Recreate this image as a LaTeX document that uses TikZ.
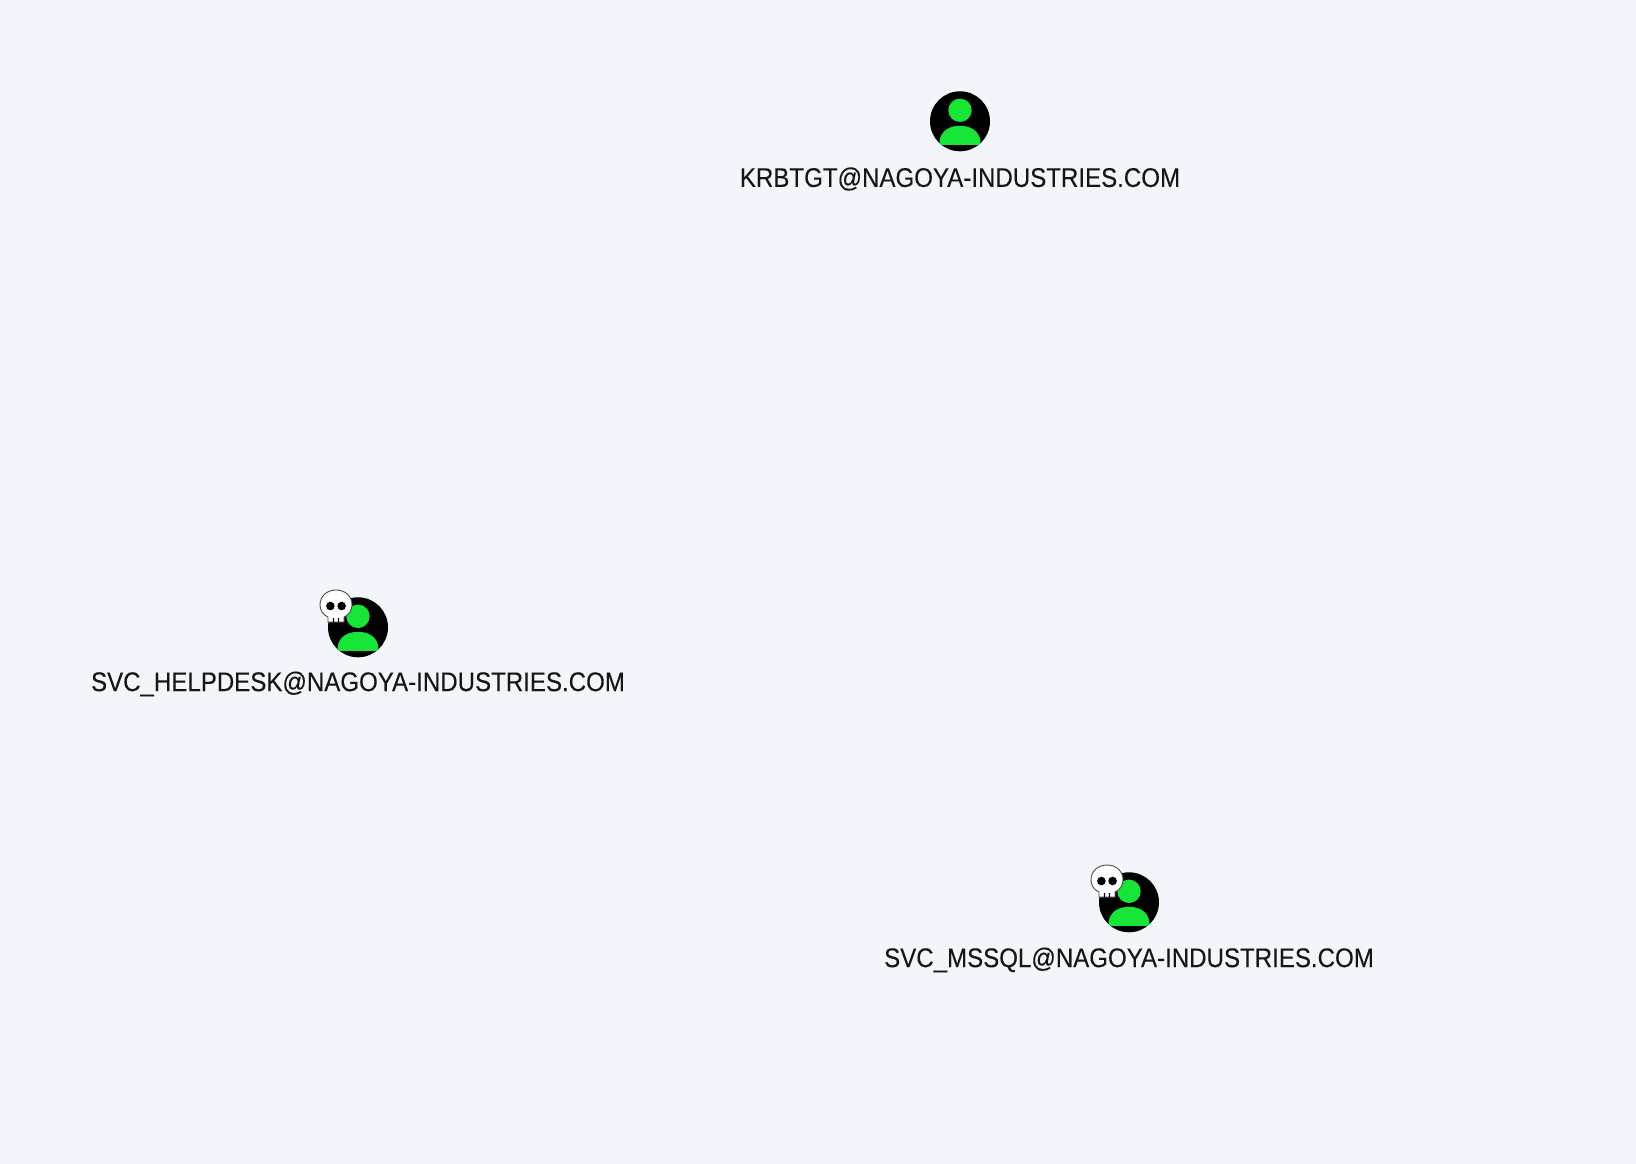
\documentclass[tikz,border=0pt]{standalone}
\usepackage{fontspec}
\setmainfont[FakeStretch=0.892,FakeBold=0.12]{Liberation Sans}
\definecolor{pagebg}{HTML}{F2F5FA}
\definecolor{usergreen}{HTML}{17E538}
\definecolor{labeltext}{HTML}{161616}
\tikzset{
  x=1pt,y=-1pt,
  disc/.style={circle,fill=black,minimum size=60pt,inner sep=0pt},
  userlabel/.style={text=labeltext,font=\fontsize{27}{30}\selectfont,inner sep=0pt,anchor=center},
  usericon/.pic={
    \fill[usergreen] (0,-11) circle[radius=11.7];
    \fill[usergreen] (-20.5,20) .. controls (-19,9) and (-10,4.5) .. (0,4.5) .. controls (10,4.5) and (19,9) .. (20.5,20)
      .. controls (21,22) and (20,23.5) .. (18,23.5) -- (-18,23.5) .. controls (-20,23.5) and (-21,22) .. (-20.5,20) -- cycle;
  },
  skullicon/.pic={
    \fill[white,draw=black!70,line width=0.9pt] (-8,16) -- (-8,11) .. controls (-13,9) and (-16,4) .. (-16,-1)
      .. controls (-16,-10) and (-9,-16) .. (0,-16) .. controls (9,-16) and (16,-10) .. (16,-1)
      .. controls (16,4) and (13,9) .. (8,11) -- (8,16) -- cycle;
    \fill[black] (-5.6,0) circle[radius=4.3] (5.6,0) circle[radius=4.3];
    \fill[black] (-3.2,12) rectangle (-1.9,16) (1.9,12) rectangle (3.2,16);
  }
}
\begin{document}
\begin{tikzpicture}
\path[use as bounding box,fill=pagebg] (0,0) rectangle (1636,1164);
\node[disc] (krbtgt) at (960,121.3) {};
\pic at (krbtgt.center) {usericon};
\node[userlabel] (krbtgtlabel) at (960,179) {KRBTGT@NAGOYA-INDUSTRIES.COM};
\node[disc] (helpdesk) at (358,627.3) {};
\pic at (helpdesk.center) {usericon};
\pic at (336,606) {skullicon};
\node[userlabel] (helpdesklabel) at (358,684) {SVC\_HELPDESK@NAGOYA-INDUSTRIES.COM};
\node[disc] (mssql) at (1129,902.3) {};
\pic at (mssql.center) {usericon};
\pic at (1107,881) {skullicon};
\node[userlabel] (mssqllabel) at (1129,960) {SVC\_MSSQL@NAGOYA-INDUSTRIES.COM};
\end{tikzpicture}
\end{document}
